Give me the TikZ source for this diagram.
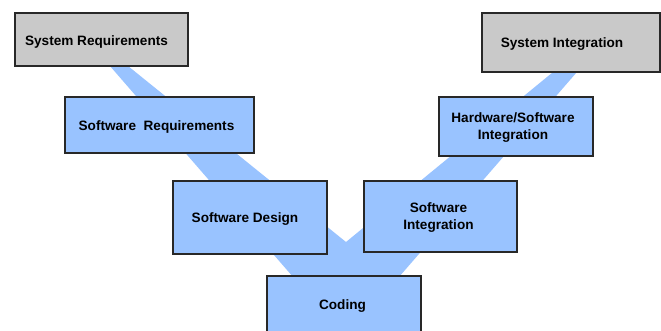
\documentclass[tikz,border=0pt]{standalone}
\usepackage{fontspec}
\setmainfont{Liberation Sans}
\definecolor{vblue}{RGB}{153,195,255}
\definecolor{vgray}{RGB}{201,201,201}
\definecolor{vline}{RGB}{40,40,40}
\begin{document}
\begin{tikzpicture}[x=1pt,y=-1pt,
  box/.style={draw=vline,line width=1.1pt,inner sep=0pt,rectangle},
  bluebox/.style={box,fill=vblue},
  graybox/.style={box,fill=vgray},
  lbl/.style={font=\fontsize{13.6}{17}\selectfont\bfseries,align=center,inner sep=0pt,text=black}]
\useasboundingbox (0,0) rectangle (661,330);
\fill[white] (0,0) rectangle (661,330);
% V-shaped band
\fill[vblue] (87.4,40) -- (346,338) -- (600.4,45) -- (586,45) -- (346,242) -- (95.8,40) -- cycle;
% boxes
\node[graybox,minimum width=173pt,minimum height=53pt,
  label={[lbl,xshift=-5pt,yshift=-2pt]center:System Requirements}] (sysreq) at (101.5,39.5) {};
\node[bluebox,minimum width=189pt,minimum height=56pt,
  label={[lbl,xshift=-3pt,yshift=-2pt]center:Software\ \ Requirements}] (swreq) at (159.5,125) {};
\node[graybox,minimum width=178pt,minimum height=59pt,
  label={[lbl,xshift=-9pt,yshift=-1.5pt]center:System Integration}] (sysint) at (571,42.5) {};
\node[bluebox,minimum width=154pt,minimum height=59pt,
  label={[lbl,xshift=-3pt,yshift=-1.5pt]center:{Hardware/Software\\Integration}}] (hwsw) at (516,126.5) {};
\node[bluebox,minimum width=154pt,minimum height=73pt,
  label={[lbl,xshift=-5pt,yshift=-2pt]center:Software Design}] (swdes) at (250,217.5) {};
\node[bluebox,minimum width=153pt,minimum height=71pt,
  label={[lbl,xshift=-2pt,yshift=-1.5pt]center:{Software\\Integration}}] (swint) at (440.5,216.5) {};
\node[bluebox,minimum width=154pt,minimum height=60pt,
  label={[lbl,xshift=-1.5pt,yshift=-0.5pt]center:Coding}] (coding) at (344,306) {};
\end{tikzpicture}
\end{document}
